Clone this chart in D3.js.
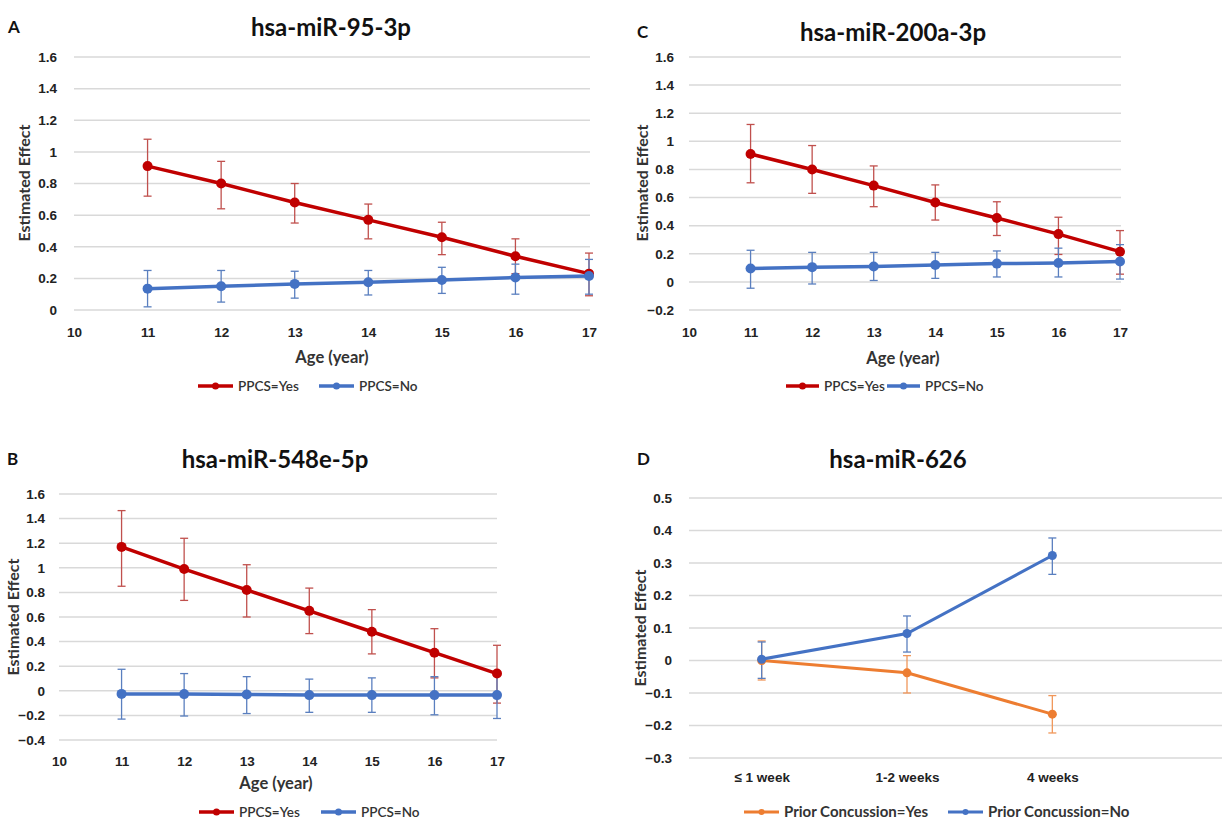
<!DOCTYPE html>
<html>
<head>
<meta charset="utf-8">
<script src="https://cdn.jsdelivr.net/npm/d3@7"></script>
<style>
  body { margin: 0; background: #fff; }
  svg { display: block; font-family: Lato, "Open Sans", sans-serif; }
  .tick text { font-weight: bold; font-size: 13.5px; fill: #222; }
</style>
</head>
<body>
<svg id="fig" width="1225" height="819"></svg>
<script>
// ages on the x axis of A, B, C
const ages = [11, 12, 13, 14, 15, 16, 17];
const ageTicks = [10, 11, 12, 13, 14, 15, 16, 17];

// A: hsa-miR-95-3p
const a_yes = [0.91, 0.80, 0.68, 0.57, 0.46, 0.34, 0.23];
const a_yes_hi = [1.08, 0.94, 0.80, 0.67, 0.555, 0.45, 0.36];
const a_yes_lo = [0.72, 0.64, 0.55, 0.45, 0.35, 0.23, 0.09];
const a_no = [0.135, 0.15, 0.165, 0.175, 0.19, 0.205, 0.215];
const a_no_hi = [0.25, 0.25, 0.245, 0.25, 0.27, 0.29, 0.32];
const a_no_lo = [0.02, 0.05, 0.075, 0.095, 0.105, 0.10, 0.10];

// B: hsa-miR-548e-5p
const b_yes = [1.17, 0.99, 0.82, 0.65, 0.48, 0.31, 0.14];
const b_yes_hi = [1.465, 1.24, 1.025, 0.835, 0.66, 0.505, 0.37];
const b_yes_lo = [0.85, 0.735, 0.60, 0.465, 0.30, 0.105, -0.10];
const b_no = [-0.025, -0.027, -0.03, -0.035, -0.035, -0.035, -0.035];
const b_no_hi = [0.175, 0.14, 0.115, 0.095, 0.105, 0.115, 0.135];
const b_no_lo = [-0.23, -0.205, -0.185, -0.175, -0.175, -0.195, -0.225];

// C: hsa-miR-200a-3p
const c_yes = [0.91, 0.80, 0.685, 0.565, 0.455, 0.34, 0.215];
const c_yes_hi = [1.12, 0.97, 0.825, 0.69, 0.57, 0.46, 0.365];
const c_yes_lo = [0.705, 0.63, 0.535, 0.44, 0.33, 0.195, 0.055];
const c_no = [0.095, 0.105, 0.11, 0.12, 0.13, 0.135, 0.145];
const c_no_hi = [0.225, 0.21, 0.21, 0.21, 0.22, 0.24, 0.265];
const c_no_lo = [-0.045, -0.015, 0.01, 0.025, 0.035, 0.035, 0.02];

// D: hsa-miR-626
const weeks = ["\u2264 1 week", "1-2 weeks", "4 weeks"];
const d_yes = [0, -0.038, -0.165];
const d_yes_hi = [0.06, 0.015, -0.108];
const d_yes_lo = [-0.06, -0.10, -0.223];
const d_no = [0.004, 0.083, 0.323];
const d_no_hi = [0.057, 0.137, 0.377];
const d_no_lo = [-0.055, 0.026, 0.265];

const yTicksABC = [-0.4, -0.2, 0, 0.2, 0.4, 0.6, 0.8, 1, 1.2, 1.4, 1.6];
const yTicksD = [-0.3, -0.2, -0.1, 0, 0.1, 0.2, 0.3, 0.4, 0.5];

const RED = "#c00000", RED_ERR = "#c0504d";
const BLUE = "#4472c4", BLUE_ERR = "#5a7fbf";
const ORANGE = "#ed7d31", ORANGE_ERR = "#f0975a";

const svg = d3.select("#fig");

function series(cats, mean, hi, lo) {
  return cats.map((c, i) => ({ x: c, y: mean[i], hi: hi[i], lo: lo[i] }));
}

function panel(p) {
  const g = svg.append("g");
  const x = p.x, y = p.y;
  const [gx0, gx1] = p.grid;

  // gridlines
  g.append("g").selectAll("line")
    .data(p.yTicks)
    .enter().append("line")
    .attr("x1", gx0).attr("x2", gx1)
    .attr("y1", d => y(d)).attr("y2", d => y(d))
    .attr("stroke", "#d9d9d9").attr("stroke-width", 1.5);

  // y axis labels
  g.append("g")
    .attr("transform", "translate(" + (gx0 - p.yGap) + ",0)")
    .call(d3.axisLeft(y).tickValues(p.yTicks).tickSize(0).tickFormat(d3.format("")))
    .call(s => s.select(".domain").remove());

  // x axis labels
  const xa = p.band ? d3.axisBottom(x) : d3.axisBottom(x).tickValues(ageTicks).tickFormat(d3.format("d"));
  g.append("g")
    .attr("transform", "translate(0," + p.xLabelY + ")")
    .call(xa.tickSize(0))
    .call(s => s.select(".domain").remove());

  // titles
  g.append("text").attr("x", p.titleX).attr("y", p.titleY)
    .attr("text-anchor", "middle").attr("font-size", 24).attr("font-weight", "bold")
    .attr("fill", "#111").text(p.title);
  g.append("text").attr("x", p.letterX).attr("y", p.titleY - 3)
    .attr("font-size", 17).attr("font-weight", "bold").attr("fill", "#111").text(p.letter);
  g.append("text")
    .attr("transform", "translate(" + p.yTitleX + "," + p.yTitleY + ") rotate(-90)")
    .attr("text-anchor", "middle").attr("font-size", 16).attr("font-weight", "bold")
    .attr("fill", "#333").text("Estimated Effect");
  if (p.xTitle) {
    g.append("text").attr("x", p.xTitleX).attr("y", p.xTitleY)
      .attr("text-anchor", "middle").attr("font-size", 16.5).attr("font-weight", "bold")
      .attr("fill", "#333").text(p.xTitle);
  }

  const line = d3.line().x(d => x(d.x)).y(d => y(d.y));

  p.series.forEach(s => {
    // error bars
    const eb = g.append("g").selectAll("g").data(s.data).enter().append("g")
      .attr("stroke", s.err).attr("stroke-width", 1.3);
    eb.append("line").attr("x1", d => x(d.x)).attr("x2", d => x(d.x))
      .attr("y1", d => y(d.hi)).attr("y2", d => y(d.lo));
    eb.append("line").attr("x1", d => x(d.x) - 4).attr("x2", d => x(d.x) + 4)
      .attr("y1", d => y(d.hi)).attr("y2", d => y(d.hi));
    eb.append("line").attr("x1", d => x(d.x) - 4).attr("x2", d => x(d.x) + 4)
      .attr("y1", d => y(d.lo)).attr("y2", d => y(d.lo));
  });

  p.series.forEach(s => {
    g.append("path").datum(s.data).attr("d", line)
      .attr("fill", "none").attr("stroke", s.color).attr("stroke-width", p.lineW);
    g.append("g").selectAll("circle").data(s.data).enter().append("circle")
      .attr("cx", d => x(d.x)).attr("cy", d => y(d.y)).attr("r", p.r)
      .attr("fill", s.color);
  });

  // legend
  const lg = g.append("g");
  p.series.forEach((s, i) => {
    const lx = p.legend[i];
    lg.append("line").attr("x1", lx).attr("x2", lx + p.legendLen)
      .attr("y1", p.legendY).attr("y2", p.legendY)
      .attr("stroke", s.color).attr("stroke-width", p.lineW);
    lg.append("circle").attr("cx", lx + p.legendLen / 2).attr("cy", p.legendY)
      .attr("r", p.legendR).attr("fill", s.color);
    lg.append("text").attr("x", lx + p.legendLen + 5).attr("y", p.legendY)
      .attr("dy", "0.35em").attr("font-size", p.legendFont).attr("font-weight", p.legendWeight)
      .attr("fill", "#333").text(s.name);
  });
}

// A
panel({
  x: d3.scaleLinear().domain([10, 17]).range([74, 589]),
  y: d3.scaleLinear().domain([0, 1.6]).range([310, 57]),
  grid: [74, 590], yTicks: yTicksABC.filter(v => v >= 0), yGap: 14,
  xLabelY: 324, title: "hsa-miR-95-3p", titleX: 331, titleY: 36, letter: "A", letterX: 8,
  yTitleX: 30, yTitleY: 183, xTitle: "Age (year)", xTitleX: 332, xTitleY: 363,
  lineW: 3.5, r: 5,
  series: [
    { name: "PPCS=Yes", color: RED, err: RED_ERR, data: series(ages, a_yes, a_yes_hi, a_yes_lo) },
    { name: "PPCS=No", color: BLUE, err: BLUE_ERR, data: series(ages, a_no, a_no_hi, a_no_lo) }
  ],
  legend: [198, 319], legendLen: 35, legendY: 386, legendR: 3.5, legendFont: 13.5, legendWeight: 600
});

// B
panel({
  x: d3.scaleLinear().domain([10, 17]).range([59, 497]),
  y: d3.scaleLinear().domain([-0.4, 1.6]).range([740, 494]),
  grid: [59, 497], yTicks: yTicksABC, yGap: 11,
  xLabelY: 753, title: "hsa-miR-548e-5p", titleX: 275, titleY: 468, letter: "B", letterX: 7,
  yTitleX: 19, yTitleY: 617, xTitle: "Age (year)", xTitleX: 276, xTitleY: 789,
  lineW: 3.5, r: 5,
  series: [
    { name: "PPCS=Yes", color: RED, err: RED_ERR, data: series(ages, b_yes, b_yes_hi, b_yes_lo) },
    { name: "PPCS=No", color: BLUE, err: BLUE_ERR, data: series(ages, b_no, b_no_hi, b_no_lo) }
  ],
  legend: [199, 321], legendLen: 35, legendY: 812, legendR: 3.5, legendFont: 13.5, legendWeight: 600
});

// C
panel({
  x: d3.scaleLinear().domain([10, 17]).range([689, 1120]),
  y: d3.scaleLinear().domain([-0.2, 1.6]).range([310, 57]),
  grid: [689, 1121], yTicks: yTicksABC.filter(v => v >= -0.2), yGap: 12,
  xLabelY: 324, title: "hsa-miR-200a-3p", titleX: 893, titleY: 41, letter: "C", letterX: 637,
  yTitleX: 648, yTitleY: 183, xTitle: "Age (year)", xTitleX: 903, xTitleY: 364,
  lineW: 3.5, r: 5,
  series: [
    { name: "PPCS=Yes", color: RED, err: RED_ERR, data: series(ages, c_yes, c_yes_hi, c_yes_lo) },
    { name: "PPCS=No", color: BLUE, err: BLUE_ERR, data: series(ages, c_no, c_no_hi, c_no_lo) }
  ],
  legend: [786, 887], legendLen: 33, legendY: 386, legendR: 3.5, legendFont: 13.5, legendWeight: 600
});

// D
panel({
  x: d3.scalePoint().domain(weeks).range([689, 1125]).padding(0.5),
  y: d3.scaleLinear().domain([-0.3, 0.5]).range([758, 498]),
  grid: [689, 1222], yTicks: yTicksD, yGap: 14, band: true,
  xLabelY: 769, title: "hsa-miR-626", titleX: 898, titleY: 468, letter: "D", letterX: 637,
  yTitleX: 646, yTitleY: 628, xTitle: null,
  lineW: 3, r: 4.5,
  series: [
    { name: "Prior Concussion=Yes", color: ORANGE, err: ORANGE_ERR, data: series(weeks, d_yes, d_yes_hi, d_yes_lo) },
    { name: "Prior Concussion=No", color: BLUE, err: BLUE_ERR, data: series(weeks, d_no, d_no_hi, d_no_lo) }
  ],
  legend: [744, 948], legendLen: 35, legendY: 812, legendR: 3, legendFont: 15, legendWeight: "bold"
});
</script>
</body>
</html>
